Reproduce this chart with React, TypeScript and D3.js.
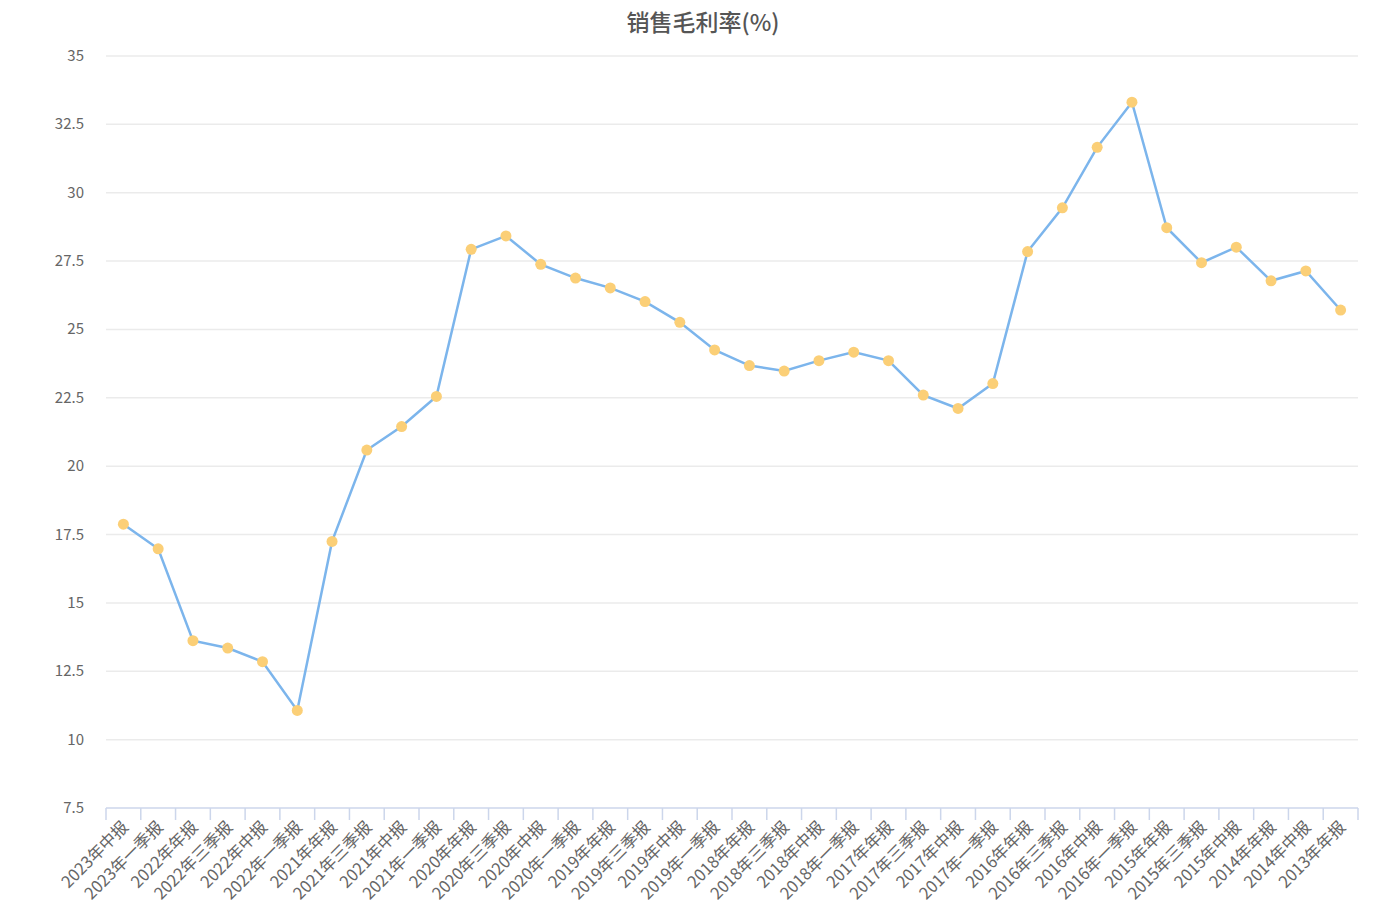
import React, { useEffect, useRef } from "react";
import * as d3 from "d3";

const categories: string[] = [
  "2023年中报", "2023年一季报", "2022年年报", "2022年三季报", "2022年中报", "2022年一季报",
  "2021年年报", "2021年三季报", "2021年中报", "2021年一季报",
  "2020年年报", "2020年三季报", "2020年中报", "2020年一季报",
  "2019年年报", "2019年三季报", "2019年中报", "2019年一季报",
  "2018年年报", "2018年三季报", "2018年中报", "2018年一季报",
  "2017年年报", "2017年三季报", "2017年中报", "2017年一季报",
  "2016年年报", "2016年三季报", "2016年中报", "2016年一季报",
  "2015年年报", "2015年三季报", "2015年中报",
  "2014年年报", "2014年中报", "2013年年报",
];

const grossMargin: number[] = [
  17.88, 16.98, 13.62, 13.35, 12.85, 11.07,
  17.25, 20.59, 21.45, 22.55,
  27.93, 28.42, 27.38, 26.88,
  26.52, 26.02, 25.26, 24.25,
  23.68, 23.48, 23.86, 24.17,
  23.86, 22.6, 22.11, 23.02,
  27.85, 29.45, 31.66, 33.31,
  28.72, 27.44, 28.01,
  26.78, 27.14, 25.71,
];

const yTicks: number[] = [7.5, 10, 12.5, 15, 17.5, 20, 22.5, 25, 27.5, 30, 32.5, 35];

const title = "销售毛利率(%)";

const W = 1399;
const H = 910;
const FONT = "'Noto Sans CJK SC', 'Noto Sans', sans-serif";

export default function App() {
  const ref = useRef<SVGSVGElement | null>(null);

  useEffect(() => {
    const svg = d3.select(ref.current);
    svg.selectAll("*").remove();

    const left = 106, right = 1358, top = 56, bottom = 808;

    const x = d3.scaleBand<string>().domain(categories).range([left, right]).padding(0);
    const y = d3.scaleLinear().domain([7.5, 35]).range([bottom, top]);
    const cx = (c: string) => (x(c) as number) + x.bandwidth() / 2;

    svg.append("text")
      .attr("x", 703).attr("y", 31)
      .attr("text-anchor", "middle")
      .attr("font-family", FONT)
      .attr("font-size", 23)
      .attr("font-weight", 500)
      .attr("fill", "#555")
      .text(title);

    // grid
    svg.append("g").selectAll("line")
      .data(yTicks.filter((t) => t !== 7.5))
      .join("line")
      .attr("x1", left).attr("x2", right)
      .attr("y1", (d) => y(d)).attr("y2", (d) => y(d))
      .attr("stroke", "#ebebeb").attr("stroke-width", 1.5);

    // y labels
    svg.append("g").selectAll("text")
      .data(yTicks)
      .join("text")
      .attr("x", 84).attr("y", (d) => y(d) + 5)
      .attr("text-anchor", "end")
      .attr("font-family", FONT)
      .attr("font-size", 15)
      .attr("fill", "#666")
      .text((d) => String(d));

    // x axis line
    svg.append("line")
      .attr("x1", left).attr("x2", right)
      .attr("y1", bottom).attr("y2", bottom)
      .attr("stroke", "#ccd6eb").attr("stroke-width", 1.5);

    const tickPos = categories.map((c) => x(c) as number).concat([right]);
    svg.append("g").selectAll("line")
      .data(tickPos)
      .join("line")
      .attr("x1", (d) => d).attr("x2", (d) => d)
      .attr("y1", bottom).attr("y2", bottom + 12)
      .attr("stroke", "#ccd6eb").attr("stroke-width", 1.5);

    // x labels
    svg.append("g").selectAll("text")
      .data(categories)
      .join("text")
      .attr("transform", (d) => `translate(${cx(d) + 6},${bottom + 20}) rotate(-45)`)
      .attr("text-anchor", "end")
      .attr("font-family", FONT)
      .attr("font-size", 16.5)
      .attr("fill", "#666")
      .text((d) => d);

    // line
    const line = d3.line<number>()
      .x((_, i) => cx(categories[i]))
      .y((d) => y(d));
    svg.append("path")
      .datum(grossMargin)
      .attr("d", line)
      .attr("fill", "none")
      .attr("stroke", "#7cb5ec")
      .attr("stroke-width", 2.5);

    svg.append("g").selectAll("circle")
      .data(grossMargin)
      .join("circle")
      .attr("cx", (_, i) => cx(categories[i]))
      .attr("cy", (d) => y(d))
      .attr("r", 5.5)
      .attr("fill", "#fbcf77");
  }, []);

  return (
    <svg
      ref={ref}
      width={W}
      height={H}
      style={{ position: "absolute", left: 0, top: 0, background: "#fff" }}
    />
  );
}
